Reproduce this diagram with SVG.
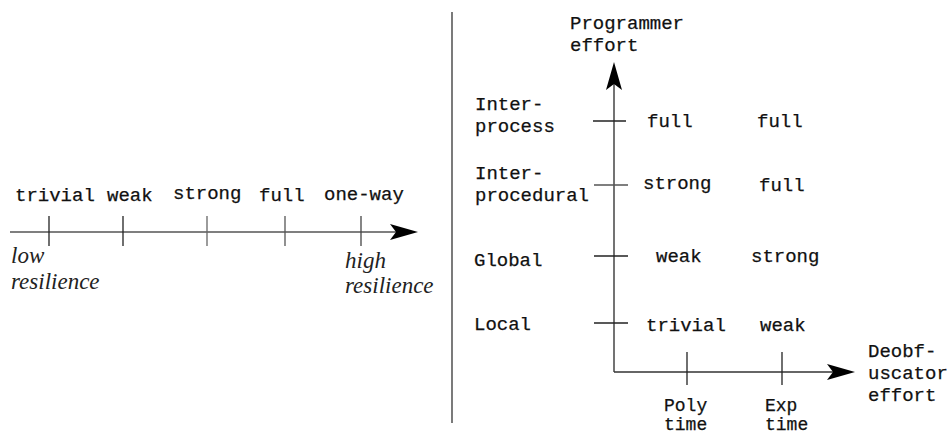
<svg xmlns="http://www.w3.org/2000/svg" width="952" height="435" viewBox="0 0 952 435">
  <style>
    .t { font-family: "Liberation Mono", "DejaVu Sans Mono", monospace; font-size: 19px; fill: #111; stroke: #111; stroke-width: 0.25; }
    .s { font-size: 18px; }
    .i { font-family: "Liberation Serif", "DejaVu Serif", serif; font-style: italic; font-size: 23px; fill: #222; }
    .axis { stroke: #555; stroke-width: 1.5; fill: none; }
    .tick { stroke: #222; stroke-width: 1.3; fill: none; }
    .head { fill: #000; stroke: none; }
  </style>

  <!-- Left: linear resilience scale -->
  <g id="resilience-scale">
    <g id="connectors-left">
      <line class="axis" x1="10" y1="232" x2="400" y2="232"/>
      <path class="head" d="M418,232 L390,224 L396,232 L390,240 Z"/>
      <line class="tick" x1="49" y1="216" x2="49" y2="246"/>
      <line class="tick" x1="123" y1="216" x2="123" y2="246"/>
      <line class="tick" x1="207" y1="216" x2="207" y2="246" style="stroke:#666"/>
      <line class="tick" x1="285" y1="216" x2="285" y2="246" style="stroke:#555"/>
      <line class="tick" x1="361" y1="216" x2="361" y2="246" style="stroke:#444"/>
    </g>
    <g id="lvl-trivial"><text class="t" x="15" y="201">trivial</text></g>
    <g id="lvl-weak"><text class="t" x="107" y="201">weak</text></g>
    <g id="lvl-strong"><text class="t" x="173" y="199">strong</text></g>
    <g id="lvl-full"><text class="t" x="259" y="201">full</text></g>
    <g id="lvl-oneway"><text class="t" x="324" y="200">one-way</text></g>
    <g id="low-res"><text class="i" x="11" y="263">low</text><text class="i" x="11" y="289">resilience</text></g>
    <g id="high-res"><text class="i" x="345" y="268">high</text><text class="i" x="345" y="293">resilience</text></g>
  </g>

  <!-- Divider -->
  <line x1="452" y1="12" x2="452" y2="423" stroke="#333" stroke-width="1.3"/>

  <!-- Right: two-dimensional effort chart -->
  <g id="effort-chart">
    <g id="connectors-right">
      <line class="axis" x1="614" y1="372" x2="614" y2="82" style="stroke:#444"/>
      <path class="head" d="M614,62 L606,90 L614,84 L622,90 Z"/>
      <line class="axis" x1="614" y1="372" x2="837" y2="372" style="stroke:#333"/>
      <path class="head" d="M855,372 L827,364 L833,372 L827,380 Z"/>
      <line class="tick" x1="593" y1="121" x2="626" y2="121"/>
      <line class="tick" x1="594" y1="185" x2="628" y2="185" style="stroke:#555"/>
      <line class="tick" x1="594" y1="256" x2="628" y2="256"/>
      <line class="tick" x1="594" y1="323" x2="628" y2="323"/>
      <line class="tick" x1="687" y1="352" x2="687" y2="385"/>
      <line class="tick" x1="782" y1="352" x2="782" y2="385"/>
    </g>

    <g id="y-title"><text class="t" x="570" y="29">Programmer</text><text class="t" x="570" y="51">effort</text></g>
    <g id="x-title"><text class="t" x="868" y="357">Deobf-</text><text class="t" x="868" y="379">uscator</text><text class="t" x="868" y="401">effort</text></g>

    <g id="row-interprocess"><text class="t" x="475" y="110">Inter-</text><text class="t" x="475" y="132">process</text></g>
    <g id="row-interprocedural"><text class="t" x="475" y="179">Inter-</text><text class="t" x="475" y="201">procedural</text></g>
    <g id="row-global"><text class="t" x="474" y="266">Global</text></g>
    <g id="row-local"><text class="t" x="474" y="330">Local</text></g>

    <g id="col-poly"><text class="t s" x="664" y="411">Poly</text><text class="t s" x="664" y="430">time</text></g>
    <g id="col-exp"><text class="t s" x="765" y="411">Exp</text><text class="t s" x="765" y="430">time</text></g>

    <g id="cell-p-interprocess"><text class="t" x="647" y="127">full</text></g>
    <g id="cell-e-interprocess"><text class="t" x="757" y="127">full</text></g>
    <g id="cell-p-interprocedural"><text class="t" x="643" y="189">strong</text></g>
    <g id="cell-e-interprocedural"><text class="t" x="759" y="191">full</text></g>
    <g id="cell-p-global"><text class="t" x="656" y="262">weak</text></g>
    <g id="cell-e-global"><text class="t" x="751" y="262">strong</text></g>
    <g id="cell-p-local"><text class="t" x="646" y="331">trivial</text></g>
    <g id="cell-e-local"><text class="t" x="760" y="331">weak</text></g>
  </g>
</svg>
